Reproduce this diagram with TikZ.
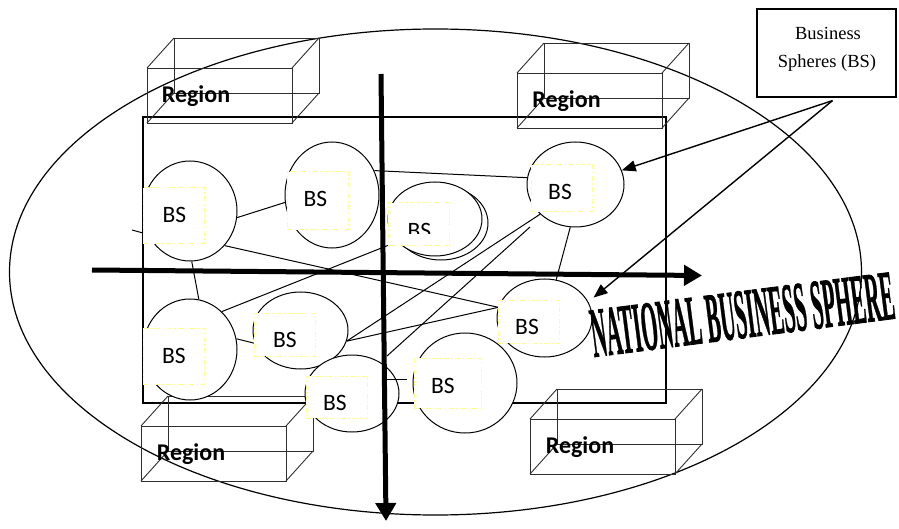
\documentclass[tikz,border=0pt]{standalone}
\usepackage{fontspec}
\usepackage{graphicx}
\setmainfont{Liberation Serif}
\newfontfamily\calfont{Carlito}
\newfontfamily\natfont[FakeBold=1.2]{Liberation Serif Bold}
\usetikzlibrary{arrows.meta,shapes.geometric,calc}
\pgfdeclarelayer{bg}
\pgfsetlayers{bg,main}
\definecolor{ylw}{RGB}{255,255,140}
\tikzset{
  outline/.style={draw, line width=1.2pt, inner sep=0pt},
  conn/.style={line width=1pt},
  bsell/.style={ellipse, draw, line width=1pt, fill=white, inner sep=0pt},
  ybox/.style={draw=ylw, fill=white, line width=1pt, dash pattern=on 5pt off 2.5pt on 1.5pt off 2.5pt, inner sep=0pt},
  bstext/.style={font=\calfont\fontsize{23.5}{28}\selectfont, anchor=base, inner sep=0pt},
  regtext/.style={font=\calfont\bfseries\fontsize{24}{28}\selectfont, anchor=base, inner sep=0pt},
  rgline/.style={draw=black!82, line width=0.9pt},
  bigarrow/.style={line width=5pt, -{Triangle[length=18pt,width=20pt]}},
  ptr/.style={line width=1.4pt, -{Triangle[length=14pt,width=11pt]}},
  regionbox/.pic={
    \draw[rgline] (0,0) rectangle (145,55);
    \draw[rgline] (27,-30) rectangle (172,25);
    \draw[rgline] (0,0) -- (27,-30) (145,0) -- (172,-30) (0,55) -- (27,25) (145,55) -- (172,25);
  }
}
\begin{document}
\begin{tikzpicture}[x=1pt,y=-1pt]
\useasboundingbox (0,0) rectangle (899,529);
% outer national ellipse and inner frame
\node[outline, ellipse, minimum width=852pt, minimum height=486pt] (nbs) at (435.5,272) {};
\node[outline, minimum width=523pt, minimum height=286pt] (frame) at (404.5,260) {};
% region boxes
\pic (rb1) at (147,68) {regionbox};
\pic (rb2) at (517,73) {regionbox};
\pic (rb3) at (141,426) {regionbox};
\pic (rb4) at (530,419) {regionbox};
\node[regtext] (rg1) at (196,103) {Region};
\node[regtext] (rg2) at (566.5,108) {Region};
\node[regtext] (rg3) at (191,460) {Region};
\node[regtext] (rg4) at (580,453) {Region};
% business spheres
\node[bsell, minimum width=94pt, minimum height=100pt] (c1) at (190,211) {};
\node[bsell, minimum width=94pt, minimum height=106pt] (c2) at (332,195) {};
\node[bsell, minimum width=94pt, minimum height=74pt] (c3b) at (441,223) {};
\node[bsell, minimum width=94pt, minimum height=74pt] (c3) at (435,219) {};
\node[bsell, minimum width=97pt, minimum height=85pt] (c4) at (575.5,184.5) {};
\node[bsell, minimum width=94pt, minimum height=101pt] (c5) at (190,349.5) {};
\node[bsell, minimum width=95pt, minimum height=77pt] (c6) at (300.5,330.5) {};
\node[bsell, minimum width=94pt, minimum height=77pt] (c7) at (352,393.5) {};
\node[bsell, minimum width=104pt, minimum height=100pt] (c8) at (465,383) {};
\node[bsell, minimum width=95pt, minimum height=78pt] (c9) at (544.5,318) {};
% yellow text frames
\node[ybox, minimum width=61pt, minimum height=56pt] (y1) at (173.5,216) {};
\node[ybox, minimum width=61pt, minimum height=58pt] (y2) at (317.5,201) {};
\node[ybox, minimum width=61pt, minimum height=43pt] (y3) at (418.5,224.5) {};
\node[ybox, minimum width=61pt, minimum height=47pt] (y4) at (561.5,188.5) {};
\node[ybox, minimum width=61pt, minimum height=56pt] (y5) at (173.5,356) {};
\node[ybox, minimum width=61pt, minimum height=43pt] (y6) at (284.5,334.5) {};
\node[ybox, minimum width=61pt, minimum height=42pt] (y7) at (336.5,397) {};
\node[ybox, minimum width=67pt, minimum height=50pt] (y8) at (447.5,383) {};
\node[ybox, minimum width=61pt, minimum height=43pt] (y9) at (528.5,321.5) {};
% labels
\node[bstext] (t1) at (174.5,223) {BS};
\node[bstext] (t2) at (315.5,207) {BS};
\begin{scope}
\clip (388,200) rectangle (449,234);
\node[bstext] (t3) at (419.5,239) {BS};
\end{scope}
\node[bstext] (t4) at (560,200) {BS};
\node[bstext] (t5) at (174,363) {BS};
\node[bstext] (t6) at (285,347) {BS};
\node[bstext] (t7) at (335,410) {BS};
\node[bstext] (t8) at (443,393) {BS};
\node[bstext] (t9) at (527,334) {BS};
% free ends
\coordinate (f1) at (530,227);
\coordinate (f2) at (387,356);
\coordinate (f3) at (387,379);
\coordinate (f4) at (407,379);
\coordinate (f5) at (132,230);
\coordinate (f6) at (143,233);
% connectors (behind the spheres)
\begin{pgfonlayer}{bg}
\draw[conn] (c1.-8) -- (c2.-171);
\draw[conn] (c1.-45) -- (c9.167);
\draw[conn] (c1.-88) -- (c5.80);
\draw[conn] (c2.30) -- (c4.172);
\draw[conn] (c3.211) -- (c5.50);
\draw[conn] (c5.13) -- (c6.-164);
\draw[conn] (c4.220) -- (c6.-13);
\draw[conn] (c6.-13) -- (c9.167);
\draw[conn] (c4.-97) -- (c9.73);
\draw[conn] (f1) -- (f2);
\draw[conn] (f5) -- (f6);
\end{pgfonlayer}
\draw[conn] (f3) -- (f4);
% axes
\coordinate (h1) at (92,270);
\coordinate (h2) at (702,275.5);
\coordinate (v1) at (381,74);
\coordinate (v2) at (386,521);
\draw[bigarrow] (h1) -- (h2);
\draw[bigarrow] (v1) -- (v2);
% legend box
\node[outline, minimum width=139pt, minimum height=88pt] (bsb) at (826.5,53) {};
\node[anchor=base, inner sep=0pt, font=\fontsize{18.5}{22}\selectfont] (bsl1) at (828,40) {Business};
\node[anchor=base, inner sep=0pt, font=\fontsize{18.5}{22}\selectfont] (bsl2) at (827,68) {Spheres (BS)};
\draw[ptr] ($(bsb.south)+(6,3)$) -- (c4.17);
\draw[ptr] ($(bsb.south)+(6,3)$) -- ($(c9.22)+(6,-3)$);
% title
\node[anchor=south west, rotate=7.3, inner sep=0pt, font=\natfont] (nat) at (594,358) {\resizebox{305pt}{47pt}{NATIONAL BUSINESS SPHERE}};
\end{tikzpicture}
\end{document}
